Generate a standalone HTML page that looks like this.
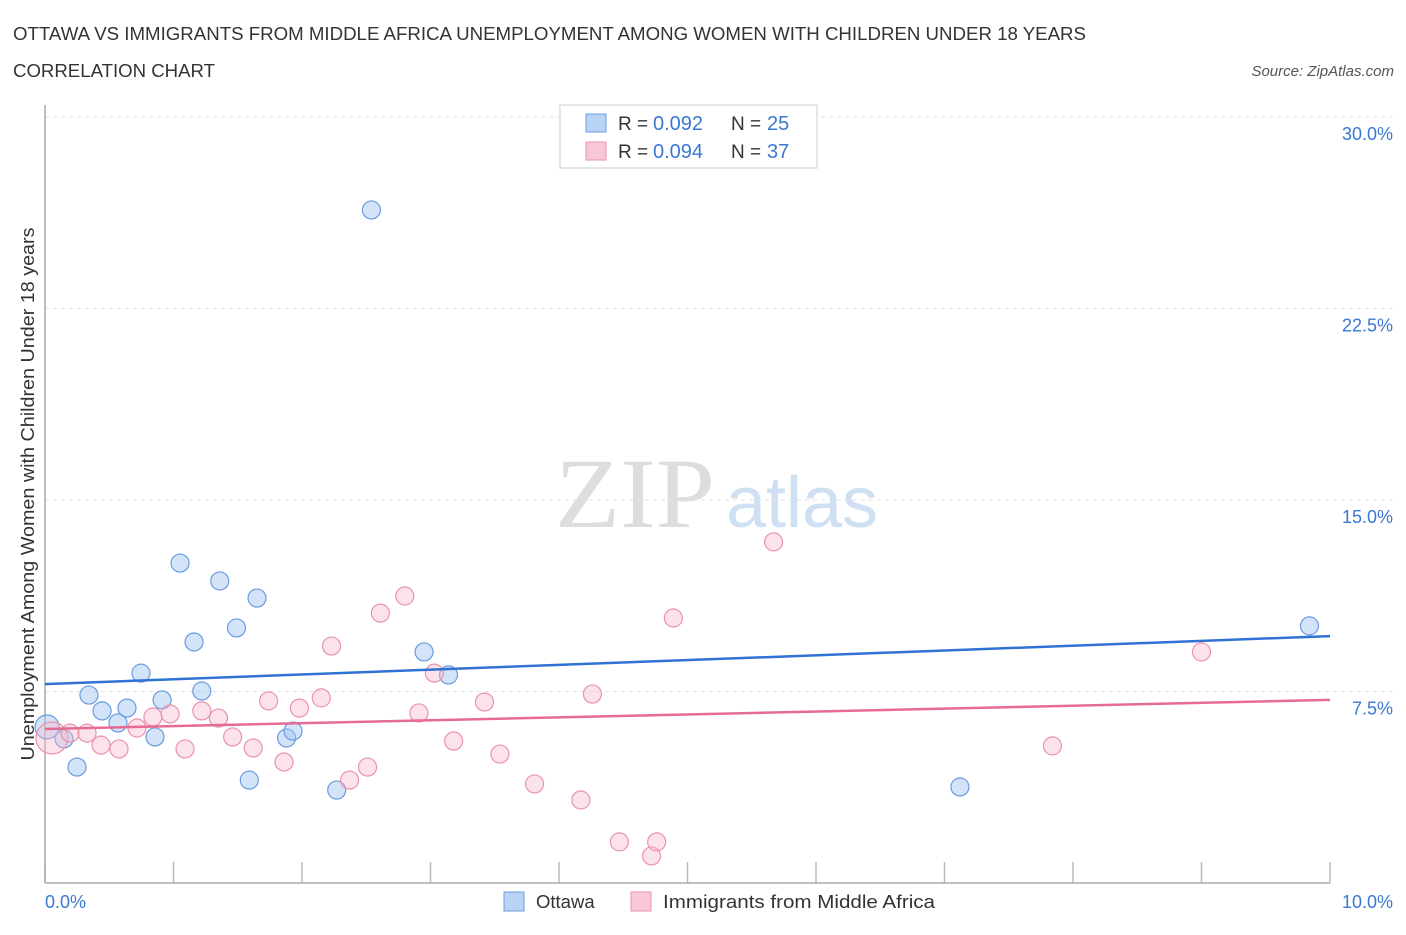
<!DOCTYPE html>
<html><head><meta charset="utf-8"><style>
body{margin:0;background:#fff;font-family:"Liberation Sans",sans-serif;}
svg text{font-family:"Liberation Sans",sans-serif;}
</style></head><body>
<svg width="1406" height="930" xmlns="http://www.w3.org/2000/svg" id="chart">
<text x="13" y="40" font-size="18" fill="#333" textLength="1073" lengthAdjust="spacingAndGlyphs">OTTAWA VS IMMIGRANTS FROM MIDDLE AFRICA UNEMPLOYMENT AMONG WOMEN WITH CHILDREN UNDER 18 YEARS</text>
<text x="13" y="77" font-size="18" fill="#333" textLength="202" lengthAdjust="spacingAndGlyphs">CORRELATION CHART</text>
<text x="1394" y="76" font-size="15" fill="#555" text-anchor="end" font-style="italic">Source: ZipAtlas.com</text>
<text x="635" y="527" font-size="100" fill="#ddd" text-anchor="middle" style="font-family:'Liberation Serif',serif" textLength="160" lengthAdjust="spacingAndGlyphs">ZIP</text>
<text x="802" y="527" font-size="72" fill="#cfe0f3" text-anchor="middle">atlas</text>
<g id="grid"></g>
<line x1="45" y1="105" x2="45" y2="883" stroke="#aaa" stroke-width="1.5"/>
<line x1="45" y1="883" x2="1330" y2="883" stroke="#aaa" stroke-width="1.5"/>
<text transform="translate(34,494) rotate(-90)" font-size="18" fill="#333" text-anchor="middle" textLength="533" lengthAdjust="spacingAndGlyphs">Unemployment Among Women with Children Under 18 years</text>
<text x="45" y="908" font-size="18" fill="#3a78d4">0.0%</text>
<text x="1393" y="908" font-size="18" fill="#3a78d4" text-anchor="end">10.0%</text>
<g id="marks"></g>
<g>
<rect x="560" y="105" width="257" height="63" fill="#fff" stroke="#ccc"/>
<rect x="586" y="114" width="20" height="18" fill="#b9d3f5" stroke="#6a9be0"/>
<rect x="586" y="142" width="20" height="18" fill="#f9c8d6" stroke="#eb92ad"/>
<text x="618" y="130" font-size="19" fill="#333">R = </text><text x="653" y="130" font-size="20" fill="#3a78d4">0.092</text>
<text x="731" y="130" font-size="19" fill="#333">N = </text><text x="767" y="130" font-size="20" fill="#3a78d4">25</text>
<text x="618" y="158" font-size="19" fill="#333">R = </text><text x="653" y="158" font-size="20" fill="#3a78d4">0.094</text>
<text x="731" y="158" font-size="19" fill="#333">N = </text><text x="767" y="158" font-size="20" fill="#3a78d4">37</text>
</g>
<g>
<rect x="504" y="892" width="20" height="19" fill="#b9d3f5" stroke="#6a9be0"/>
<text x="536" y="908" font-size="18.5" fill="#333">Ottawa</text>
<rect x="631" y="892" width="20" height="19" fill="#f9c8d6" stroke="#eb92ad"/>
<text x="663" y="908" font-size="18.5" fill="#333" textLength="272" lengthAdjust="spacingAndGlyphs">Immigrants from Middle Africa</text>
</g>
</svg>
<script>
const yTicks=[7.5,15,22.5,30];
const yTickLabels=["7.5%","15.0%","22.5%","30.0%"];
const xTicks=[0,1,2,3,4,5,6,7,8,9,10];
const ottawaX=[0.016,0.148,0.249,0.342,0.444,0.568,0.638,0.747,0.856,0.911,1.051,1.16,1.22,1.36,1.49,1.59,1.65,1.88,1.93,2.27,2.54,2.95,3.14,7.12,9.84];
const ottawaY=[6.11,5.64,4.54,7.36,6.74,6.27,6.85,8.22,5.72,7.17,12.53,9.44,7.52,11.83,9.99,4.03,11.16,5.68,5.95,3.64,26.36,9.05,8.15,3.76,10.07];
const immX=[0.054,0.195,0.327,0.436,0.576,0.716,0.84,0.973,1.09,1.22,1.35,1.46,1.62,1.74,1.86,1.98,2.15,2.23,2.37,2.51,2.61,2.80,2.91,3.03,3.18,3.42,3.54,3.81,4.17,4.26,4.47,4.72,4.76,4.89,5.67,7.84,9.00];
const immY=[5.68,5.87,5.87,5.40,5.25,6.07,6.50,6.62,5.25,6.74,6.46,5.72,5.29,7.13,4.74,6.85,7.25,9.28,4.03,4.54,10.57,11.24,6.66,8.22,5.56,7.09,5.05,3.88,3.25,7.40,1.61,1.06,1.61,10.38,13.36,5.37,9.05];
const ottawaTrend=[7.79,9.67];
const immTrend=[6.03,7.17];
const NS="http://www.w3.org/2000/svg";
const sx=v=>45+v*128.5, sy=v=>883-v*25.533;
function mk(t,a,p){const e=document.createElementNS(NS,t);for(const k in a)e.setAttribute(k,a[k]);p.appendChild(e);return e;}
const grid=document.getElementById('grid'), marks=document.getElementById('marks'), svg=document.getElementById('chart');
yTicks.forEach((v,i)=>{
 const l=mk('line',{x1:45,x2:1393,y1:sy(v),y2:sy(v),stroke:'#e2e2e2','stroke-dasharray':'4,4'},grid);
 
 
 const t=mk('text',{x:1393,y:sy(v)+23,'font-size':18,fill:'#3a78d4','text-anchor':'end'},svg);
 t.textContent=yTickLabels[i];
 
 
});
xTicks.forEach(v=>{
 const l=mk('line',{x1:sx(v),x2:sx(v),y1:862,y2:883,stroke:'#bbb','stroke-width':1.5},grid);
 
 
});
ottawaX.forEach((x,i)=>{
 const c=mk('circle',{cx:sx(x),cy:sy(ottawaY[i]),r:i==0?12:9,fill:'rgba(160,196,240,0.45)',stroke:'#6a9be0','stroke-width':1.2},marks);
 
 
});
immX.forEach((x,i)=>{
 const c=mk('circle',{cx:sx(x),cy:sy(immY[i]),r:i==0?16:9,fill:'rgba(248,186,206,0.4)',stroke:'#eb92ad','stroke-width':1.2},marks);
 
 
});
const l1=mk('line',{x1:sx(0),x2:sx(10),y1:sy(ottawaTrend[0]),y2:sy(ottawaTrend[1]),stroke:'#2f72d4','stroke-width':2.5},marks);


const l2=mk('line',{x1:sx(0),x2:sx(10),y1:sy(immTrend[0]),y2:sy(immTrend[1]),stroke:'#e56b94','stroke-width':2.5},marks);


</script>
</body></html>
